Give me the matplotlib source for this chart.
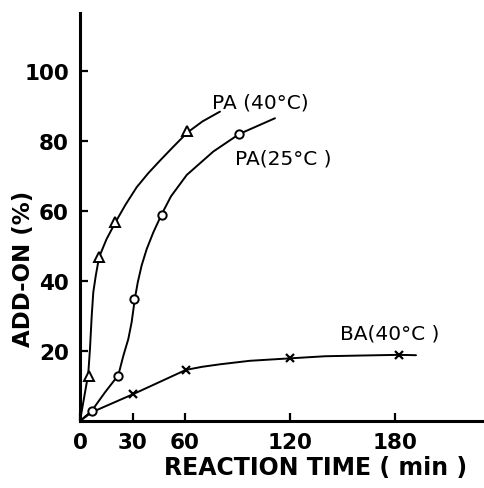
import matplotlib
matplotlib.use("Agg")
import matplotlib.pyplot as plt

# Measured add-on (%) vs reaction time (min)
pa40_time = [5, 11, 20, 61]
pa40_addon = [13, 47, 57, 83]
pa25_time = [7, 22, 31, 47, 91]
pa25_addon = [3, 13, 35, 59, 82]
ba40_time = [30.5, 60.5, 120, 182]
ba40_addon = [7.7, 14.6, 17.9, 18.9]

# Hand-drawn trend curves through each series
pa40_curve_t = [0, 4.7, 5.7, 6.7, 7.6, 9.0, 10.9, 15.2, 20.4, 26, 32.4, 39, 45.7,
                53, 61.3, 70, 80]
pa40_curve_y = [0, 13.4, 20.6, 30.1, 36.8, 41.5, 46.8, 52.0, 56.9, 61.8, 66.8,
                70.8, 74.4, 78.2, 82.4, 85.6, 88.4]
pa25_curve_t = [0, 6.7, 14.3, 21.9, 24.8, 27.6, 29.5, 31.4, 33.0, 35.2, 38.1,
                41.9, 46.7, 52, 61, 76.2, 91, 111.4]
pa25_curve_y = [0, 2.9, 8.2, 13.1, 18.7, 23.4, 28.2, 35.1, 39.6, 44.4, 49.1,
                53.9, 59.1, 64.2, 70.3, 77.0, 82, 86.5]
ba40_curve_t = [0, 6.7, 30.5, 60.5, 70, 80, 97, 120, 140, 160, 182, 192]
ba40_curve_y = [0, 2.5, 7.7, 14.6, 15.5, 16.2, 17.2, 17.9, 18.5, 18.7, 18.9, 18.8]

x_ticks = [0, 30, 60, 120, 180]
y_ticks = [20, 40, 60, 80, 100]

plt.rcParams['font.family'] = ['DejaVu Sans']

fig = plt.figure(figsize=(4.85, 4.89), dpi=100)
ax = fig.add_axes([80 / 485, 67 / 489, 405 / 485, 408 / 489])
ax.set_xlim(0, 405 / 1.75)
ax.set_ylim(0, 408 / 3.5)

for side in ("top", "right"):
    ax.spines[side].set_visible(False)
for side in ("left", "bottom"):
    ax.spines[side].set_linewidth(2.2)

ax.set_xticks(x_ticks)
ax.set_yticks(y_ticks)
ax.tick_params(direction="in", length=6, width=1.6, labelsize=15.5, pad=8)
for lbl in ax.get_xticklabels() + ax.get_yticklabels():
    lbl.set_fontweight("bold")

line_kw = dict(color="black", lw=1.4, solid_capstyle="round", solid_joinstyle="round")
ax.plot(pa40_curve_t, pa40_curve_y, **line_kw)
ax.plot(pa25_curve_t, pa25_curve_y, **line_kw)
ax.plot(ba40_curve_t, ba40_curve_y, **line_kw)

ax.plot(pa40_time, pa40_addon, ls="none", marker="^", ms=6.5, mfc="white",
        mec="black", mew=1.4, zorder=3)
ax.plot(pa25_time, pa25_addon, ls="none", marker="o", ms=6, mfc="white",
        mec="black", mew=1.4, zorder=3)
ax.plot(ba40_time, ba40_addon, ls="none", marker="x", ms=6, mec="black",
        mew=1.6, zorder=3)

ax.text(103, 91, "PA (40°C)", fontsize=14.5, ha="center", va="center")
ax.text(116, 75, "PA(25°C )", fontsize=14.5, ha="center", va="center")
ax.text(177, 25, "BA(40°C )", fontsize=14.5, ha="center", va="center")

ax.set_xlabel("REACTION TIME ( min )", fontsize=17, fontweight="bold")
ax.set_ylabel("ADD-ON (%)", fontsize=16.5, fontweight="bold")
ax.xaxis.set_label_coords((316 - 80) / 405, (422 - 468) / 408)
ax.yaxis.set_label_coords((24 - 80) / 405, (422 - 269) / 408)
ax.xaxis.label.set_va("center")
ax.yaxis.label.set_va("center")

fig.savefig("out.png", dpi=100)
